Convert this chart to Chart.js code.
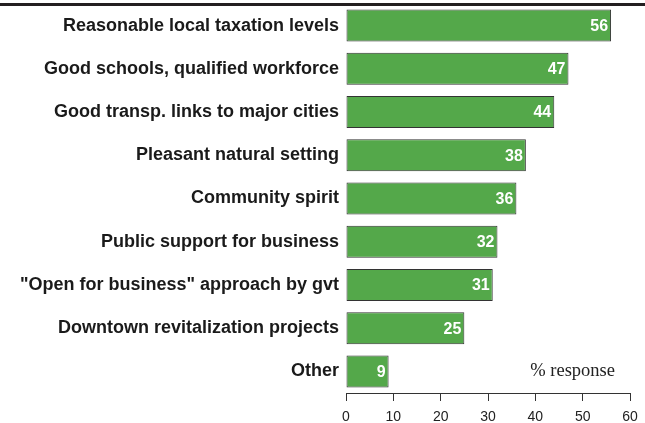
<!DOCTYPE html>
<html>
<head>
<meta charset="utf-8">
<script src="https://cdn.jsdelivr.net/npm/chart.js@4"></script>
<style>
  html, body { margin: 0; padding: 0; background: #fff; }
  #wrap { width: 645px; height: 423px; position: relative; }
</style>
</head>
<body>
<div id="wrap"><canvas id="chart"></canvas></div>
<script>
var categories = [
  "Reasonable local taxation levels",
  "Good schools, qualified workforce",
  "Good transp. links to major cities",
  "Pleasant natural setting",
  "Community spirit",
  "Public support for business",
  "\"Open for business\" approach by gvt",
  "Downtown revitalization projects",
  "Other"
];
var responses = [56, 47, 44, 38, 36, 32, 31, 25, 9];
var xTicks = [0, 10, 20, 30, 40, 50, 60];
var unitLabel = "% response";

// value printed at the inner end of each bar
var barValues = {
  id: 'barValues',
  afterDatasetsDraw: function(chart) {
    var ctx = chart.ctx;
    var meta = chart.getDatasetMeta(0);
    ctx.save();
    ctx.fillStyle = '#ffffff';
    ctx.font = 'bold 16px "Liberation Sans", Arial, sans-serif';
    ctx.textAlign = 'right';
    ctx.textBaseline = 'middle';
    meta.data.forEach(function(bar, i) {
      ctx.fillText(String(responses[i]), bar.x - 3, bar.y + 1);
    });
    ctx.restore();
  }
};

// heavy rule across the top and the unit note
var extras = {
  id: 'extras',
  afterDraw: function(chart) {
    var ctx = chart.ctx;
    ctx.save();
    ctx.strokeStyle = '#231f20';
    ctx.lineWidth = 3;
    ctx.beginPath();
    ctx.moveTo(0, 4.5);
    ctx.lineTo(chart.width, 4.5);
    ctx.stroke();

    ctx.fillStyle = '#222';
    ctx.font = '18.5px "Liberation Serif", "Times New Roman", serif';
    ctx.textAlign = 'right';
    ctx.textBaseline = 'middle';
    var y = chart.scales.y.getPixelForValue(categories.length - 1);
    ctx.fillText(unitLabel, chart.scales.x.getPixelForValue(60) - 15, y);
    ctx.restore();
  }
};

new Chart(document.getElementById('chart'), {
  type: 'bar',
  data: {
    labels: categories,
    datasets: [{
      data: responses,
      backgroundColor: '#54a84a',
      borderColor: '#333333',
      borderWidth: 1,
      borderSkipped: false,
      categoryPercentage: 1,
      barPercentage: 0.74
    }]
  },
  options: {
    indexAxis: 'y',
    responsive: true,
    maintainAspectRatio: false,
    animation: false,
    layout: { padding: { top: 4, right: 15, left: 0, bottom: 0 } },
    plugins: {
      legend: { display: false },
      tooltip: { enabled: false }
    },
    scales: {
      x: {
        min: 0,
        max: 60,
        afterFit: function(scale) {
          scale.height = 30;
          scale.paddingLeft = 0;
          scale.paddingRight = 0;
        },
        afterBuildTicks: function(scale) {
          scale.ticks = xTicks.map(function(v) { return { value: v }; });
        },
        grid: {
          drawOnChartArea: false,
          drawTicks: true,
          tickLength: 8,
          color: '#333'
        },
        border: { display: true, color: '#333', width: 1 },
        ticks: {
          color: '#222',
          padding: 8,
          maxRotation: 0,
          font: { family: '"Liberation Sans", Arial, sans-serif', size: 14 }
        }
      },
      y: {
        afterFit: function(scale) {
          scale.width = 346;
          scale.paddingTop = 0;
          scale.paddingBottom = 0;
        },
        grid: { display: false, drawTicks: false },
        border: { display: false },
        ticks: {
          color: '#1a1a1a',
          padding: 7,
          font: { family: '"Liberation Sans", Arial, sans-serif', size: 18, weight: 'bold' }
        }
      }
    }
  },
  plugins: [barValues, extras]
});
</script>
</body>
</html>
